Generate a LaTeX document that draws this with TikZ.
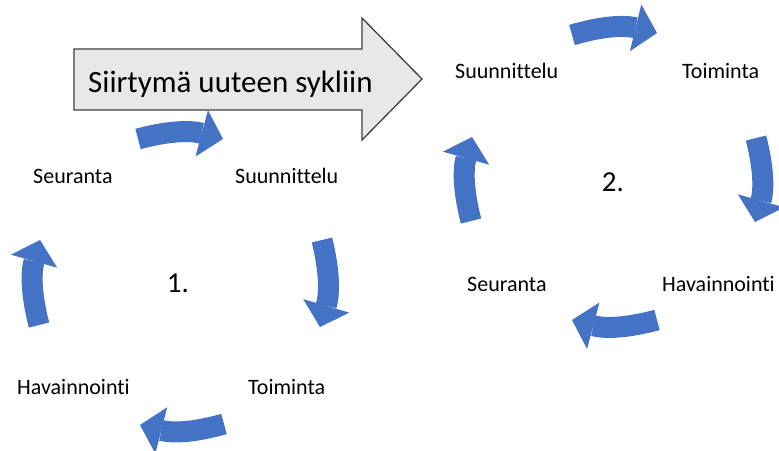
\documentclass[tikz,border=0pt]{standalone}
\usepackage{fontspec}
\setmainfont{Carlito}[Ligatures=NoCommon]
\usetikzlibrary{arrows.meta,positioning}
\definecolor{cycleblue}{HTML}{4472C4}
\definecolor{shiftgray}{HTML}{E8E8E8}
\definecolor{shiftline}{HTML}{404040}
\tikzset{phase node/.style={inner sep=0pt,anchor=base west,font=\fontsize{22}{26}\selectfont},
         number node/.style={inner sep=0pt,font=\fontsize{29}{34}\selectfont},
         cycle arrow/.style={draw=cycleblue,line width=21pt,bend left=15,
            -{Triangle[width=48pt,length=22pt,line width=0pt,fill=cycleblue]}},
         shift arrow/.style={fill=shiftgray,draw=shiftline,line width=1.3pt,line join=miter},
            }

\begin{document}
\begin{tikzpicture}[x=1pt,y=-1pt]
    \useasboundingbox (0,0) rectangle (779,450);

    % transition to the next cycle
    \draw[shift arrow] (74,49) -- (362,49) -- (362,18) -- (422,79) -- (362,140) -- (362,110) -- (74,110) -- cycle;
    \node[phase node,font=\fontsize{31}{36}\selectfont] (shift) at (88,92) {Siirtymä uuteen sykliin};

    % cycle 1
    \node[phase node] (s1) at (33,183) {Seuranta};
    \node[phase node] (p1) at (235,183) {Suunnittelu};
    \node[phase node] (h1) at (17,394) {Havainnointi};
    \node[phase node] (t1) at (248,394) {Toiminta};
    \node[number node] (n1) at (178,283) {1.};

    % cycle 2
    \node[phase node] (p2) at (455,78) {Suunnittelu};
    \node[phase node] (t2) at (682,78) {Toiminta};
    \node[phase node] (s2) at (467,291) {Seuranta};
    \node[phase node] (h2) at (662,291) {Havainnointi};
    \node[number node] (n2) at (613,182) {2.};

    \coordinate (a1) at (138,139);  \coordinate (b1) at (223,139);
    \coordinate (a2) at (322,240);  \coordinate (b2) at (320,327);
    \coordinate (a3) at (224,424);  \coordinate (b3) at (140,425);
    \coordinate (a4) at (39,325);   \coordinate (b4) at (40,240);
    \coordinate (a5) at (572,35);   \coordinate (b5) at (657,33);
    \coordinate (a6) at (756,138);  \coordinate (b6) at (755,222);
    \coordinate (a7) at (657,320);  \coordinate (b7) at (572,320);
    \coordinate (a8) at (471,221);  \coordinate (b8) at (472,137);

    \path[every edge/.style={cycle arrow}]
    (a1) edge (b1)
    (a2) edge (b2)
    (a3) edge (b3)
    (a4) edge (b4)
    (a5) edge (b5)
    (a6) edge (b6)
    (a7) edge (b7)
    (a8) edge (b8);

\end{tikzpicture}
\end{document}
